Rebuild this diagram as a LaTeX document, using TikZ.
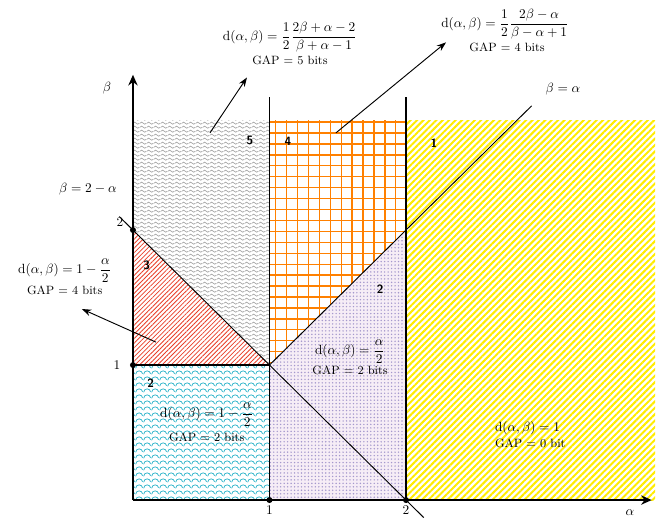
\documentclass[tikz,border=0pt]{standalone}
\usepackage{amsmath}
\usetikzlibrary{arrows.meta,patterns,patterns.meta}
\definecolor{stripeyellow}{RGB}{255,236,0}
\definecolor{hatchred}{RGB}{232,62,40}
\definecolor{scalecyan}{RGB}{40,178,200}
\definecolor{gridorange}{RGB}{255,128,0}
\definecolor{dotlav}{RGB}{165,152,205}
\tikzdeclarepattern{
  name=wavy, type=uncolored,
  bounding box={(0,0) and (5pt,3.2pt)},
  tile size={(5pt,3.2pt)},
  code={\draw[line width=0.6pt] (0,1.6pt) sin (1.25pt,2.5pt) cos (2.5pt,1.6pt) sin (3.75pt,0.7pt) cos (5pt,1.6pt);}
}
\tikzdeclarepattern{
  name=scallop, type=uncolored,
  bounding box={(0,0) and (6pt,4.5pt)},
  tile size={(6pt,4.5pt)},
  code={\draw[line width=0.55pt] (0.5pt,0.5pt) arc[start angle=180,end angle=10,radius=2.6pt];}
}
\tikzset{
  axis/.style={line width=1.5pt,-{Stealth[length=8pt,width=7pt]}},
  border/.style={line width=1pt},
  diag/.style={line width=0.7pt},
  note/.style={line width=0.7pt,-{Stealth[length=7pt,width=5pt]}},
  regnum/.style={font=\sffamily\bfseries\small},
  gap/.style={font=\small},
  dot/.style={circle,fill,inner sep=0pt,minimum size=4.5pt},
}

\begin{document}
\begin{tikzpicture}[x=3.6cm,y=3.56cm,every node/.style={inner sep=1pt}]
\useasboundingbox (-0.974,-0.133) rectangle (3.897,3.704);
% regions
\fill[pattern={Lines[angle=45,distance=3.4pt,line width=1.5pt]},pattern color=stripeyellow]
  (2,0) rectangle (3.824,2.815);
\fill[violet!7] (1,0) -- (2,0) -- (2,2) -- (1,1) -- cycle;
\fill[pattern={Dots[distance=2.6pt,radius=0.6pt]},pattern color=dotlav]
  (1,0) -- (2,0) -- (2,2) -- (1,1) -- cycle;
\fill[pattern=scallop,pattern color=scalecyan] (0,0) rectangle (1,1);
\fill[pattern={Lines[angle=45,distance=2.4pt,line width=0.6pt]},pattern color=hatchred]
  (0,1) -- (0,2) -- (1,1) -- cycle;
\fill[pattern=wavy,pattern color=gray!70] (0,2) -- (1,1) -- (1,2.815) -- (0,2.815) -- cycle;
\begin{scope}
  \clip (1,1) -- (2,2) -- (2,2.815) -- (1,2.815) -- cycle;
  \foreach \i in {0,...,11}
    \draw[gridorange,line width=1pt] (1.045+\i*0.08,1) -- (1.045+\i*0.08,2.815);
  \foreach \j in {0,...,22}
    \draw[gridorange,line width=1pt] (1,2.8+-\j*0.081) -- (2,2.8+-\j*0.081);
\end{scope}

% lines
\coordinate (o) at (0,0);
\coordinate (xend) at (3.80,0);
\coordinate (yend) at (0,3.15);
\coordinate (a1) at (1,0);
\coordinate (a1top) at (1,2.985);
\coordinate (a2) at (2,0);
\coordinate (a2top) at (2,2.985);
\coordinate (b1) at (0,1);
\coordinate (b2) at (0,2);
\coordinate (m) at (1,1);
\coordinate (diagend) at (2.92,2.92);
\coordinate (antiA) at (-0.1,2.1);
\coordinate (antiB) at (2.13,-0.13);
\draw[border] (b1) -- (m);
\draw[border] (a1) -- (a1top);
\draw[border] (a2) -- (a2top);
\draw[diag] (m) -- (diagend);
\draw[diag] (antiA) -- (antiB);
\draw[axis] (o) -- (xend);
\draw[axis] (o) -- (yend);
\foreach \p in {a1,a2,b1,b2} \node[dot] at (\p) {};

% axis labels
\node (alpha) at (3.64,-0.09) {$\alpha$};
\node (beta) at (-0.19,3.05) {$\beta$};
\node (t1x) at (1,-0.075) {1};
\node (t2x) at (2,-0.075) {2};
\node (t1y) at (-0.117,1.0) {1};
\node (t2y) at (-0.095,2.06) {2};
\node (ldiag) at (3.15,3.04) {$\beta=\alpha$};
\node (lanti) at (-0.33,2.30) {$\beta=2-\alpha$};

% region numbers
\node[regnum] (r5) at (0.857,2.66) {5};
\node[regnum] (r4) at (1.135,2.66) {4};
\node[regnum] (r1) at (2.205,2.645) {1};
\node[regnum] (r3) at (0.10,1.74) {3};
\node[regnum] (r2a) at (1.81,1.56) {2};
\node[regnum] (r2b) at (0.13,0.867) {2};

% formulas
\node (f5) at (1.15,3.43) {$\mathrm{d}(\alpha,\beta)=\dfrac{1}{2}\dfrac{2\beta+\alpha-2}{\beta+\alpha-1}$};
\node[gap] (g5) at (1.15,3.26) {GAP = 5 bits};
\node (f4) at (2.725,3.525) {$\mathrm{d}(\alpha,\beta)=\dfrac{1}{2}\dfrac{2\beta-\alpha}{\beta-\alpha+1}$};
\node[gap] (g4) at (2.74,3.35) {GAP = 4 bits};
\node (f3) at (-0.5,1.70) {$\mathrm{d}(\alpha,\beta)=1-\dfrac{\alpha}{2}$};
\node[gap] (g3) at (-0.5,1.556) {GAP = 4 bits};
\node (fm) at (1.59,1.10) {$\mathrm{d}(\alpha,\beta)=\dfrac{\alpha}{2}$};
\node[gap] (gm) at (1.59,0.963) {GAP = 2 bits};
\node (fc) at (0.54,0.63) {$\mathrm{d}(\alpha,\beta)=1-\dfrac{\alpha}{2}$};
\node[gap] (gc) at (0.54,0.467) {GAP = 2 bits};
\node (fy) at (2.89,0.533) {$\mathrm{d}(\alpha,\beta)=1$};
\node[gap] (gy) at (2.91,0.42) {GAP = 0 bit};

% pointers
\coordinate (p5) at (0.564,2.72);
\coordinate (q5) at (0.835,3.13);
\coordinate (p4) at (1.487,2.72);
\coordinate (q4) at (2.293,3.39);
\coordinate (p3) at (0.168,1.17);
\coordinate (q3) at (-0.374,1.415);
\draw[note] (p5) -- (q5);
\draw[note] (p4) -- (q4);
\draw[note] (p3) -- (q3);
\end{tikzpicture}
\end{document}
